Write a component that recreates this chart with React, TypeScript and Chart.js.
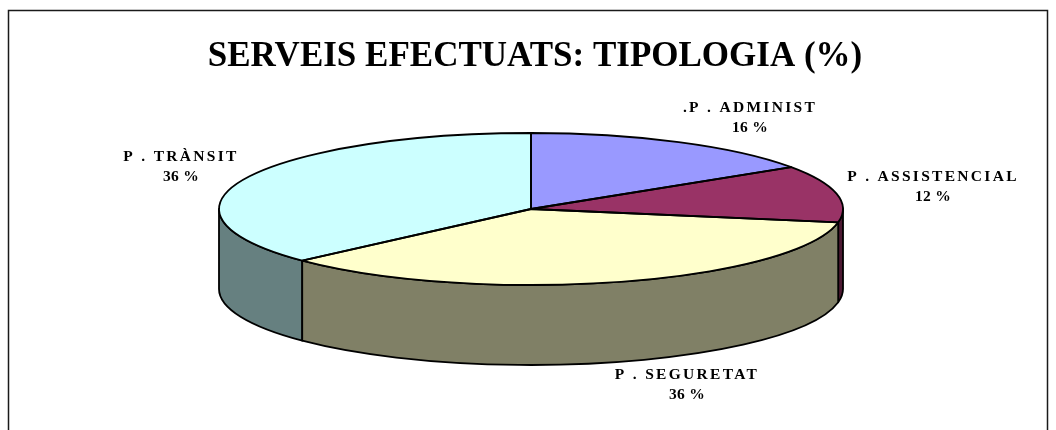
import React, { useEffect, useRef } from "react";
import { Chart, registerables } from "chart.js";

Chart.register(...registerables);

const titleText = "SERVEIS EFECTUATS: TIPOLOGIA (%)";
const categories = [".P . ADMINIST", "P . ASSISTENCIAL", "P . SEGURETAT", "P . TRÀNSIT"];
const shares = [15.7, 12.1, 35.3, 36.9];
const percentLabels = ["16 %", "12 %", "36 %", "36 %"];
const topColors = ["#9999FF", "#993366", "#FFFFCC", "#CCFFFF"];
const sideColors = ["#4D4D80", "#4D1A33", "#808066", "#668080"];

const CX = 531;
const CY = 209;
const RX = 312;
const RY = 76;
const DEPTH = 80;
const LABEL_POS: [number, number][] = [
  [750, 108],
  [933, 177],
  [687, 375],
  [181, 157],
];

const pie3d = {
  id: "pie3d",
  beforeDraw(chart: any) {
    const c = chart.ctx;
    c.save();
    c.strokeStyle = "#1a1a1a";
    c.lineWidth = 1.5;
    c.strokeRect(8.5, 10.5, 1039, 440);
    c.restore();
  },
  beforeDatasetsDraw(chart: any) {
    const c = chart.ctx;
    const arcs = chart.getDatasetMeta(0).data;
    c.save();
    c.lineWidth = 1.8;
    c.strokeStyle = "#000";
    c.lineJoin = "round";
    // side walls, only the part of each slice facing the viewer
    const order = [3, 0, 1, 2];
    order.forEach((i) => {
      const a = arcs[i];
      const s = Math.max(a.startAngle, 0);
      const e = Math.min(a.endAngle, Math.PI);
      if (e <= s) return;
      c.beginPath();
      c.ellipse(CX, CY, RX, RY, 0, s, e);
      c.ellipse(CX, CY + DEPTH, RX, RY, 0, e, s, true);
      c.closePath();
      c.fillStyle = sideColors[i];
      c.fill();
      c.stroke();
    });
    c.restore();
    c.save();
    const a0 = arcs[0];
    const R = a0.outerRadius;
    c.translate(CX, CY);
    c.scale(RX / R, RY / R);
    c.translate(-a0.x, -a0.y);
  },
  afterDatasetsDraw(chart: any) {
    const c = chart.ctx;
    c.restore();
    const arcs = chart.getDatasetMeta(0).data;
    c.save();
    c.lineWidth = 1.8;
    c.strokeStyle = "#000";
    c.lineJoin = "round";
    arcs.forEach((a: any) => {
      c.beginPath();
      c.moveTo(CX, CY);
      c.ellipse(CX, CY, RX, RY, 0, a.startAngle, a.endAngle);
      c.closePath();
      c.stroke();
    });
    c.restore();
    c.save();
    c.fillStyle = "#000";
    c.textAlign = "center";
    c.textBaseline = "middle";
    c.font = "bold 15.5px 'Liberation Serif'";
    categories.forEach((name, i) => {
      const [x, y] = LABEL_POS[i];
      c.letterSpacing = "2.3px";
      c.fillText(name, x, y);
      c.letterSpacing = "0.3px";
      c.fillText(percentLabels[i], x, y + 20);
    });
    c.restore();
  },
};

export default function App() {
  const ref = useRef<HTMLCanvasElement>(null);
  useEffect(() => {
    const chart = new Chart(ref.current!, {
      type: "pie",
      data: {
        labels: categories,
        datasets: [
          {
            data: shares,
            backgroundColor: topColors,
            borderWidth: 0,
          },
        ],
      },
      options: {
        responsive: false,
        animation: false,
        layout: { padding: { left: 14 } },
        plugins: {
          legend: { display: false },
          tooltip: { enabled: false },
          title: {
            display: true,
            text: titleText,
            color: "#000",
            font: { family: "'Liberation Serif'", size: 35, weight: "bold" },
            padding: { top: 36, bottom: 10 },
          },
        },
      },
      plugins: [pie3d],
    } as any);
    return () => chart.destroy();
  }, []);
  return (
    <canvas
      ref={ref}
      width={1056}
      height={430}
      style={{ position: "absolute", left: 0, top: 0, display: "block" }}
    />
  );
}
